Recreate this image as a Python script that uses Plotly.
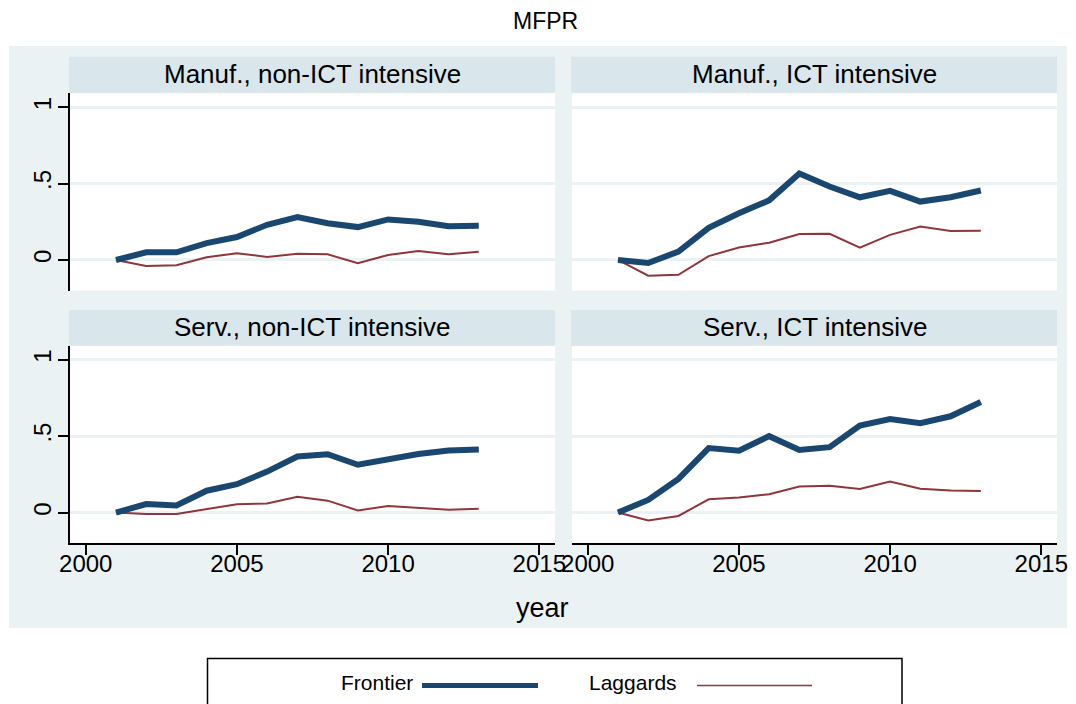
import plotly.graph_objects as go

# the page puts the figure 8px in from the top-left corner, so the figure is
# drawn 8px smaller and every layout position below is given in window pixels
OFF = 8
W, H = 1076 - OFF, 704 - OFF

years = list(range(2001, 2014))

panel_titles = ["Manuf., non-ICT intensive", "Manuf., ICT intensive",
                "Serv., non-ICT intensive", "Serv., ICT intensive"]

mnon_frontier = [0.00, 0.050, 0.050, 0.110, 0.150, 0.230, 0.280, 0.240, 0.215, 0.265, 0.250, 0.220, 0.223]
mnon_laggards = [0.00, -0.040, -0.035, 0.018, 0.044, 0.020, 0.040, 0.037, -0.022, 0.033, 0.058, 0.038, 0.053]
mict_frontier = [0.00, -0.020, 0.055, 0.210, 0.305, 0.390, 0.565, 0.480, 0.410, 0.452, 0.382, 0.410, 0.454]
mict_laggards = [0.00, -0.103, -0.097, 0.025, 0.082, 0.113, 0.170, 0.171, 0.081, 0.164, 0.218, 0.190, 0.191]
snon_frontier = [0.00, 0.056, 0.047, 0.143, 0.186, 0.268, 0.367, 0.382, 0.313, 0.350, 0.383, 0.406, 0.412]
snon_laggards = [0.00, -0.010, -0.009, 0.022, 0.055, 0.059, 0.104, 0.078, 0.014, 0.043, 0.033, 0.019, 0.025]
sict_frontier = [0.00, 0.083, 0.220, 0.422, 0.405, 0.500, 0.410, 0.428, 0.570, 0.612, 0.585, 0.630, 0.724]
sict_laggards = [0.00, -0.052, -0.022, 0.087, 0.098, 0.120, 0.170, 0.175, 0.155, 0.203, 0.156, 0.145, 0.141]

x_ticks = [2000, 2005, 2010, 2015]
y_ticks = [0, 0.5, 1]
y_ticktext = ["0", ".5", "1"]

FONT = "Liberation Sans, Arial, sans-serif"
NAVY = "#1a476f"
MAROON = "#90353b"
OUTER = "#eaf2f3"
STRIP = "#d9e6eb"


def px(x):
    return (x - OFF) / W


def py(y):
    return 1 - (y - OFF) / H


fig = go.Figure()

series = [(mnon_frontier, mnon_laggards), (mict_frontier, mict_laggards),
          (snon_frontier, snon_laggards), (sict_frontier, sict_laggards)]

for i, (fr, lg) in enumerate(series):
    ax = "" if i == 0 else str(i + 1)
    fig.add_trace(go.Scatter(x=years, y=lg, mode="lines", name="Laggards",
                             line=dict(color=MAROON, width=2),
                             xaxis="x" + ax, yaxis="y" + ax, showlegend=False))
    fig.add_trace(go.Scatter(x=years, y=fr, mode="lines", name="Frontier",
                             line=dict(color=NAVY, width=6),
                             xaxis="x" + ax, yaxis="y" + ax, showlegend=False))

# panel geometry in window pixels (left, right) and (top, bottom) of plot areas
cols = [(70, 555), (572, 1057)]
rows = [(93.3, 290.7), (346, 543.3)]
strips = [(56.7, 92.7), (310, 345.7)]

shapes = [dict(type="rect", xref="paper", yref="paper", layer="below",
               x0=px(9), x1=px(1067), y0=py(628), y1=py(46),
               fillcolor=OUTER, line=dict(width=0))]
annotations = []
layout_axes = {}

for i in range(4):
    r, c = divmod(i, 2)
    xl, xr = cols[c]
    yt, yb = rows[r]
    st, sb = strips[r]
    shapes.append(dict(type="rect", xref="paper", yref="paper", layer="below",
                       x0=px(xl), x1=px(xr), y0=py(yb), y1=py(yt),
                       fillcolor="white", line=dict(width=0)))
    shapes.append(dict(type="rect", xref="paper", yref="paper", layer="below",
                       x0=px(xl - 1), x1=px(xr), y0=py(sb), y1=py(st),
                       fillcolor=STRIP, line=dict(width=0)))
    annotations.append(dict(text=panel_titles[i], xref="paper", yref="paper",
                            x=px((xl + xr) / 2), y=py((st + sb) / 2 - 1),
                            xanchor="center", yanchor="middle", showarrow=False,
                            font=dict(family=FONT, size=26, color="black")))
    ax = "" if i == 0 else str(i + 1)
    bottom = r == 1
    left = c == 0
    layout_axes["xaxis" + ax] = dict(
        domain=[px(xl), px(xr)], range=[1999.48, 2015.52], anchor="y" + ax,
        tickvals=x_ticks, showticklabels=bottom, showgrid=False, zeroline=False,
        showline=bottom, linecolor="black", linewidth=1.5, automargin=False,
        ticks="outside" if bottom else "", ticklen=10, tickwidth=1.5, tickcolor="black",
        ticklabelstandoff=-12,
        tickfont=dict(family=FONT, size=24, color="black"), fixedrange=True)
    layout_axes["yaxis" + ax] = dict(
        domain=[py(yb), py(yt)], range=[-0.201, 1.09], anchor="x" + ax,
        tickvals=y_ticks, ticktext=y_ticktext, tickangle=-90, automargin=False,
        showticklabels=left, showgrid=True, gridcolor=OUTER, gridwidth=2.5,
        zeroline=False, showline=left, linecolor="black", linewidth=1.5,
        ticks="outside" if left else "", ticklen=10, tickwidth=1.5, tickcolor="black",
        ticklabelstandoff=-2,
        tickfont=dict(family=FONT, size=24, color="black"), fixedrange=True)

# title and x-axis label
annotations.append(dict(text="MFPR", xref="paper", yref="paper", x=px(545), y=py(21),
                        xanchor="center", yanchor="middle", showarrow=False,
                        font=dict(family=FONT, size=23, color="black")))
annotations.append(dict(text="year", xref="paper", yref="paper", x=px(542), y=py(608),
                        xanchor="center", yanchor="middle", showarrow=False,
                        font=dict(family=FONT, size=27, color="black")))

# legend box drawn by hand (Stata style: label then key)
shapes.append(dict(type="rect", xref="paper", yref="paper", layer="above",
                   x0=px(207.5), x1=px(902), y0=py(712), y1=py(658.5),
                   fillcolor="rgba(0,0,0,0)", line=dict(color="black", width=1.5)))
shapes.append(dict(type="line", xref="paper", yref="paper",
                   x0=px(422), x1=px(538), y0=py(685.5), y1=py(685.5),
                   line=dict(color=NAVY, width=5)))
shapes.append(dict(type="line", xref="paper", yref="paper",
                   x0=px(697), x1=px(812), y0=py(685.5), y1=py(685.5),
                   line=dict(color=MAROON, width=1.5)))
annotations.append(dict(text="Frontier", xref="paper", yref="paper", x=px(415), y=py(682),
                        xanchor="right", yanchor="middle", showarrow=False,
                        font=dict(family=FONT, size=21, color="black")))
annotations.append(dict(text="Laggards", xref="paper", yref="paper", x=px(679), y=py(682),
                        xanchor="right", yanchor="middle", showarrow=False,
                        font=dict(family=FONT, size=21, color="black")))

fig.update_layout(
    width=W, height=H, autosize=False,
    margin=dict(l=0, r=0, t=0, b=0),
    paper_bgcolor="white", plot_bgcolor="rgba(0,0,0,0)",
    shapes=shapes, annotations=annotations,
    showlegend=False,
    **layout_axes
)

fig.write_html("out.html")
